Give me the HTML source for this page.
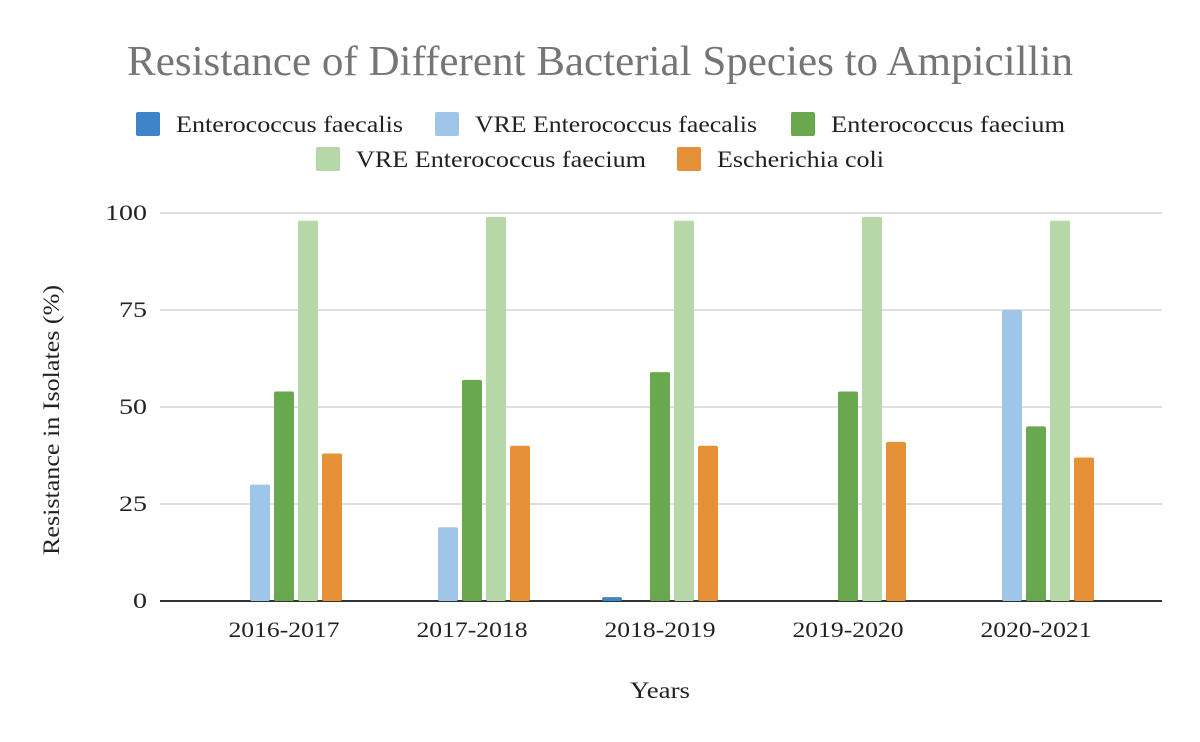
<!DOCTYPE html>
<html><head><meta charset="utf-8"><style>
body{margin:0;background:#fff;}
svg{display:block;font-family:"Liberation Serif",serif;}
</style></head><body>
<svg id="chart" width="1200" height="742">
<rect width="1200" height="742" fill="#fff"/>
<text x="600" y="75" text-anchor="middle" font-size="42" fill="#757575" textLength="946" lengthAdjust="spacingAndGlyphs">Resistance of Different Bacterial Species to Ampicillin</text>
<g id="legend" font-size="23" fill="#222"></g>
<g id="grid"></g>
<g id="bars"></g>
<g id="labels" font-size="22" fill="#222"></g>
<text x="660" y="698" text-anchor="middle" font-size="23" fill="#222" textLength="60" lengthAdjust="spacingAndGlyphs">Years</text>
<text transform="translate(59,420) rotate(-90)" text-anchor="middle" font-size="23" fill="#222" textLength="270" lengthAdjust="spacingAndGlyphs">Resistance in Isolates (%)</text>
</svg>
<script>
const categories = ["2016-2017","2017-2018","2018-2019","2019-2020","2020-2021"];
const seriesNames = ["Enterococcus faecalis","VRE Enterococcus faecalis","Enterococcus faecium","VRE Enterococcus faecium","Escherichia coli"];
const entFaecalis = [0,0,1,0,0];
const vreFaecalis = [30,19,0,0,75];
const entFaecium = [54,57,59,54,45];
const vreFaecium = [98,99,98,99,98];
const eColi = [38,40,40,41,37];
const yTicks = [0,25,50,75,100];

const series = [entFaecalis,vreFaecalis,entFaecium,vreFaecium,eColi];
const colors = ["#3d85c6","#9fc5e8","#6aa84f","#b6d7a8","#e69138"];
const NS="http://www.w3.org/2000/svg";
const x0=160,x1=1162,y0=601,y100=213;
const c0=190,c1=1130;
const y=v=>y0+(y100-y0)*v/100;
const band=(c1-c0)/categories.length;
const cx=i=>c0+band*(i+0.5);
function mk(tag,attrs,parent){const e=document.createElementNS(NS,tag);for(const k in attrs)e.setAttribute(k,attrs[k]);parent.appendChild(e);return e;}
const grid=document.getElementById('grid'),bars=document.getElementById('bars'),labels=document.getElementById('labels'),legend=document.getElementById('legend');
yTicks.forEach(t=>{
  const l=mk('line',{x1:x0,x2:x1,y1:y(t),y2:y(t),stroke:t===0?'#333':'#ccc','stroke-width':t===0?2:1.3},grid);
  
  
  const s=String(t);
  const tx=mk('text',{x:147,y:y(t)+7,'text-anchor':'end',textLength:s.length*14,lengthAdjust:'spacingAndGlyphs'},labels);
  tx.textContent=s;
  
  
});
const bw=20,step=24;
categories.forEach((c,i)=>{
  series.forEach((s,j)=>{
    const v=s[i]; if(v<=0) return;
    const bx=cx(i)-2.5*step+2+j*step;
    const r=mk('rect',{x:bx,y:y(v),width:bw,height:y0-y(v),fill:colors[j],rx:2},bars);
    
    
  });
  const tx=mk('text',{x:cx(i),y:637,'text-anchor':'middle',textLength:111,lengthAdjust:'spacingAndGlyphs'},labels);
  tx.textContent=c;
  
  
});
const legPos=[[136,124,227],[435,124,282],[791,124,234],[316,159,290],[677,159,167]];
seriesNames.forEach((n,j)=>{
  const [lx,ly,w]=legPos[j];
  const r=mk('rect',{x:lx,y:ly-12,width:24,height:24,rx:2,fill:colors[j]},legend);
  
  
  const t=mk('text',{x:lx+40,y:ly+8,textLength:w,lengthAdjust:'spacingAndGlyphs'},legend);
  t.textContent=n;
  
  
});
</script>
</body></html>
